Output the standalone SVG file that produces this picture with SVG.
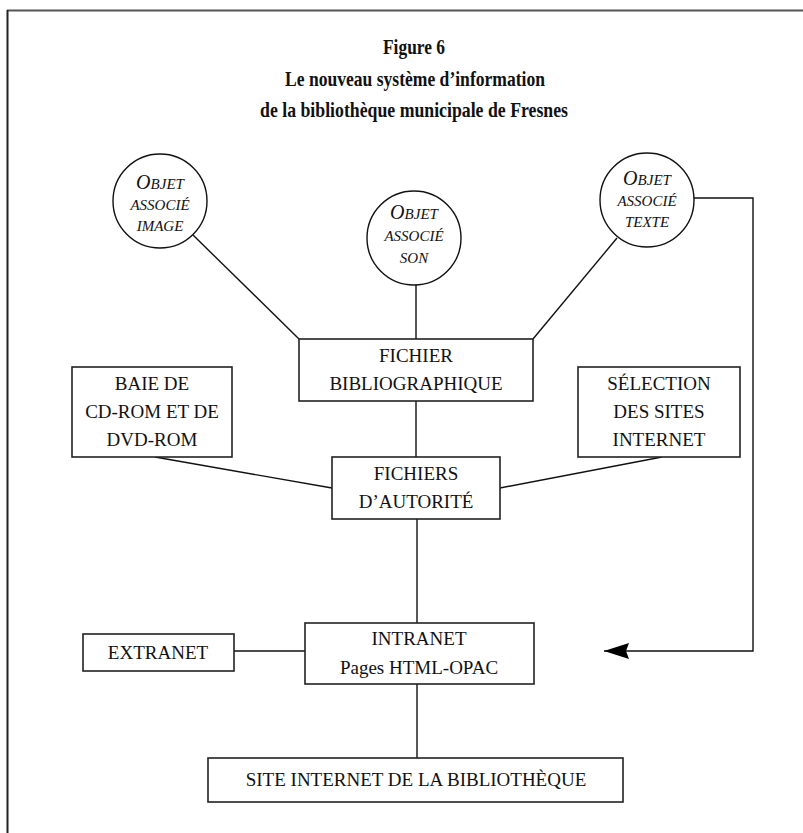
<svg xmlns="http://www.w3.org/2000/svg" width="803" height="833" viewBox="0 0 803 833">
<defs>
<style>
.t{font-family:"Liberation Serif","Times New Roman",serif;font-size:19px;fill:#111;text-anchor:middle}
.ti{font-family:"Liberation Serif","Times New Roman",serif;font-weight:bold;font-size:21px;fill:#111;text-anchor:middle}
.sc{font-family:"Liberation Serif","Times New Roman",serif;font-style:italic;font-size:15px;fill:#111;text-anchor:middle}
.big{font-size:20px}
.box{fill:#fff;stroke:#222;stroke-width:1.6}
.c{fill:#fff;stroke:#111;stroke-width:1.4}
.ln{fill:none;stroke:#111;stroke-width:1.4}
</style>
<marker id="arr" viewBox="0 0 26 16" refX="25" refY="8" markerWidth="26" markerHeight="16" markerUnits="userSpaceOnUse" orient="auto">
<path d="M0,0 L25,8 L0,16 L3,8 Z" fill="#000"/>
</marker>
</defs>
<rect width="803" height="833" fill="#fff"/>
<g id="frame">
<line x1="7" y1="10.5" x2="803" y2="10.5" stroke="#555" stroke-width="2"/>
<line x1="7.5" y1="10" x2="7.5" y2="833" stroke="#222" stroke-width="2"/>
</g>
<g id="title">
<text class="ti" x="414" y="54" textLength="62" lengthAdjust="spacingAndGlyphs">Figure 6</text>
<text class="ti" x="415" y="86" textLength="260" lengthAdjust="spacingAndGlyphs">Le nouveau système d’information</text>
<text class="ti" x="414" y="117" textLength="308" lengthAdjust="spacingAndGlyphs">de la bibliothèque municipale de Fresnes</text>
</g>
<g id="connectors">
<line class="ln" x1="193" y1="235" x2="299" y2="339"/>
<line class="ln" x1="416" y1="285" x2="416" y2="339"/>
<line class="ln" x1="617" y1="238" x2="533" y2="339"/>
<line class="ln" x1="416" y1="401" x2="416" y2="457"/>
<line class="ln" x1="155" y1="457" x2="332" y2="488"/>
<line class="ln" x1="662" y1="457" x2="500" y2="488"/>
<line class="ln" x1="417" y1="519" x2="417" y2="623"/>
<line class="ln" x1="234" y1="651" x2="305" y2="651"/>
<line class="ln" x1="417" y1="684" x2="417" y2="758"/>
<polyline class="ln" points="694,198 753,198 753,651 604,651" marker-end="url(#arr)"/>
</g>
<g id="obj-image">
<circle class="c" cx="160" cy="201" r="47"/>
<text class="sc" x="160" y="189"><tspan class="big">O</tspan>BJET</text>
<text class="sc" x="160" y="210">ASSOCIÉ</text>
<text class="sc" x="160" y="231">IMAGE</text>
</g>
<g id="obj-son">
<circle class="c" cx="414" cy="238" r="47"/>
<text class="sc" x="414" y="219"><tspan class="big">O</tspan>BJET</text>
<text class="sc" x="414" y="241">ASSOCIÉ</text>
<text class="sc" x="414" y="263">SON</text>
</g>
<g id="obj-texte">
<circle class="c" cx="647" cy="200" r="47"/>
<text class="sc" x="647" y="185"><tspan class="big">O</tspan>BJET</text>
<text class="sc" x="647" y="206">ASSOCIÉ</text>
<text class="sc" x="647" y="227">TEXTE</text>
</g>
<g id="fichier-biblio">
<rect class="box" x="299" y="339" width="234" height="62"/>
<text class="t" x="416" y="362">FICHIER</text>
<text class="t" x="416" y="390">BIBLIOGRAPHIQUE</text>
</g>
<g id="baie">
<rect class="box" x="72" y="367" width="160" height="90"/>
<text class="t" x="152" y="390">BAIE DE</text>
<text class="t" x="152" y="418">CD-ROM ET DE</text>
<text class="t" x="152" y="446">DVD-ROM</text>
</g>
<g id="selection">
<rect class="box" x="578" y="367" width="162" height="90"/>
<text class="t" x="659" y="390">SÉLECTION</text>
<text class="t" x="659" y="418">DES SITES</text>
<text class="t" x="659" y="446">INTERNET</text>
</g>
<g id="autorite">
<rect class="box" x="332" y="457" width="168" height="62"/>
<text class="t" x="416" y="480">FICHIERS</text>
<text class="t" x="416" y="508">D’AUTORITÉ</text>
</g>
<g id="extranet">
<rect class="box" x="83" y="634" width="151" height="37"/>
<text class="t" x="158" y="659">EXTRANET</text>
</g>
<g id="intranet">
<rect class="box" x="305" y="623" width="229" height="61"/>
<text class="t" x="419" y="645">INTRANET</text>
<text class="t" x="419" y="674">Pages HTML-OPAC</text>
</g>
<g id="site">
<rect class="box" x="208" y="758" width="415" height="44"/>
<text class="t" x="416" y="786">SITE INTERNET DE LA BIBLIOTHÈQUE</text>
</g>
</svg>
